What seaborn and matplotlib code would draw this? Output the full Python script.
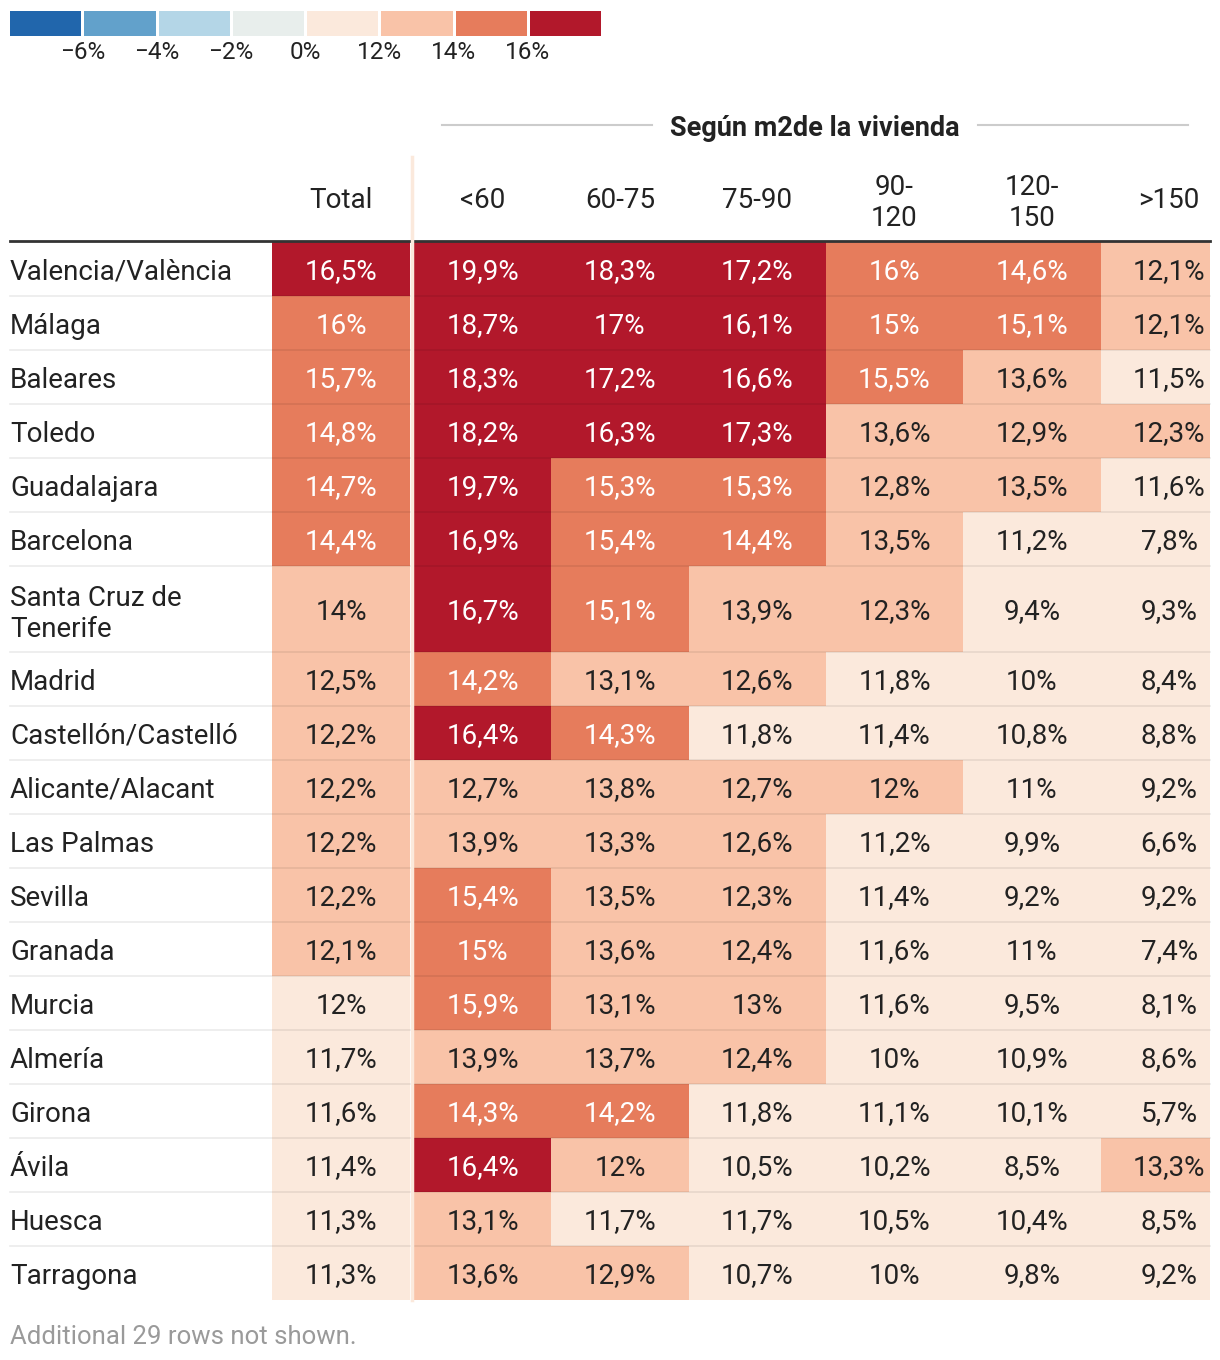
import numpy as np
import pandas as pd
import seaborn as sns
import matplotlib.pyplot as plt
from matplotlib.colors import ListedColormap, BoundaryNorm

# --- Data ---
PROVINCES = ['Valencia/València', 'Málaga', 'Baleares', 'Toledo', 'Guadalajara', 'Barcelona',
             'Santa Cruz de\nTenerife', 'Madrid', 'Castellón/Castelló', 'Alicante/Alacant',
             'Las Palmas', 'Sevilla', 'Granada', 'Murcia', 'Almería', 'Girona', 'Ávila',
             'Huesca', 'Tarragona']
TOTAL = [16.5, 15.96, 15.7, 14.8, 14.7, 14.4, 13.97, 12.5, 12.2, 12.2, 12.2, 12.2, 12.1,
         11.96, 11.7, 11.6, 11.4, 11.3, 11.3]
LT60 = [19.9, 18.7, 18.3, 18.2, 19.7, 16.9, 16.7, 14.2, 16.4, 12.7, 13.9, 15.4, 15.0,
        15.9, 13.9, 14.3, 16.4, 13.1, 13.6]
R60_75 = [18.3, 17.0, 17.2, 16.3, 15.3, 15.4, 15.1, 13.1, 14.3, 13.8, 13.3, 13.5, 13.6,
          13.1, 13.7, 14.2, 12.04, 11.7, 12.9]
R75_90 = [17.2, 16.1, 16.6, 17.3, 15.3, 14.4, 13.9, 12.6, 11.8, 12.7, 12.6, 12.3, 12.4,
          13.0, 12.4, 11.8, 10.5, 11.7, 10.7]
R90_120 = [15.96, 15.0, 15.5, 13.6, 12.8, 13.5, 12.3, 11.8, 11.4, 12.04, 11.2, 11.4, 11.6,
           11.6, 10.0, 11.1, 10.2, 10.5, 10.0]
R120_150 = [14.6, 15.1, 13.6, 12.9, 13.5, 11.2, 9.4, 10.0, 10.8, 11.0, 9.9, 9.2, 11.0,
            9.5, 10.9, 10.1, 8.5, 10.4, 9.8]
GT150 = [12.1, 12.1, 11.5, 12.3, 11.6, 7.8, 9.3, 8.4, 8.8, 9.2, 6.6, 9.2, 7.4,
         8.1, 8.6, 5.7, 13.3, 8.5, 9.2]
SIZE_COLS = ['<60', '60-75', '75-90', '90-\n120', '120-\n150', '>150']

LEGEND_LABELS = ['−6%', '−4%', '−2%', '0%', '12%', '14%', '16%']
LEGEND_BOUNDS = [-8, -6, -4, -2, 0, 12, 14, 16, 30]
LEGEND_COLORS = ['#2166ac', '#62a1cb', '#b4d6e7', '#e8eeec',
                 '#fbe9dc', '#f9c3a8', '#e67c5c', '#b2182b']

# --- Layout (pixels) ---
W, H = 1220, 1360
TABLE_TOP, UNIT_PX = 242, 2
NORMAL_UNITS, TALL_UNITS = 27, 43
TOTAL_X0, TOTAL_X1 = 272, 410
SIZE_X0, SIZE_X1, COL_W = 414, 1210, 137.3
FONT = 'Roboto'
TXT = '#222222'
FS = 20

plt.rcParams['font.family'] = [FONT, 'DejaVu Sans']

cmap = ListedColormap(LEGEND_COLORS)
norm = BoundaryNorm(LEGEND_BOUNDS, cmap.N)


def fmt(v):
    s = f"{v:.1f}".replace('.', ',')
    if s.endswith(',0'):
        s = s[:-2]
    return s + '%'


def px_axes(fig, x0, y0, x1, y1):
    return fig.add_axes([x0 / W, 1 - y1 / H, (x1 - x0) / W, (y1 - y0) / H])


units = np.array([TALL_UNITS if '\n' in p else NORMAL_UNITS for p in PROVINCES])
edges = np.concatenate([[0], np.cumsum(units)])
centers = edges[:-1] + units / 2
table_bottom = TABLE_TOP + edges[-1] * UNIT_PX

df_total = pd.DataFrame({'Total': TOTAL}, index=PROVINCES)
df_size = pd.DataFrame(dict(zip(SIZE_COLS, [LT60, R60_75, R75_90, R90_120, R120_150, GT150])),
                       index=PROVINCES)

fig = plt.figure(figsize=(W / 100, H / 100), dpi=100)


def draw_block(ax, frame):
    expanded = np.repeat(frame.values, units, axis=0)
    sns.heatmap(expanded, ax=ax, cmap=cmap, norm=norm, cbar=False,
                xticklabels=False, yticklabels=False)
    for i in range(len(frame)):
        for j in range(frame.shape[1]):
            v = frame.iat[i, j]
            ax.text(j + 0.5, centers[i], fmt(v), ha='center', va='center_baseline',
                    fontsize=FS, color='white' if v >= 14 else TXT)


ax_t = px_axes(fig, TOTAL_X0, TABLE_TOP, TOTAL_X1, table_bottom)
draw_block(ax_t, df_total)
ax_s = px_axes(fig, SIZE_X0, TABLE_TOP, SIZE_X1, table_bottom)
draw_block(ax_s, df_size)
ax_s.set_xlim(0, (SIZE_X1 - SIZE_X0) / COL_W)

# legend strip
ax_l = px_axes(fig, 8, 9, 602, 37)
mids = [(LEGEND_BOUNDS[k] + LEGEND_BOUNDS[k + 1]) / 2 for k in range(len(LEGEND_COLORS))]
sns.heatmap(np.array([mids]), ax=ax_l, cmap=cmap, norm=norm, cbar=False,
            linewidths=2, linecolor='white', xticklabels=False, yticklabels=False)
ax_l.set_xticks(np.arange(1, len(LEGEND_COLORS)))
ax_l.set_xticklabels(LEGEND_LABELS, fontsize=17.5, color=TXT)
ax_l.tick_params(axis='x', length=0, pad=3, labelbottom=True)

# overlay for labels and rules
ov = fig.add_axes([0, 0, 1, 1], facecolor='none')
ov.set_xlim(0, W)
ov.set_ylim(H, 0)
ov.axis('off')

for i, name in enumerate(PROVINCES):
    yc = TABLE_TOP + centers[i] * UNIT_PX
    ov.text(10, yc, name, ha='left', va='center_baseline', fontsize=FS, color=TXT,
            linespacing=1.2)
    if i > 0:
        yl = TABLE_TOP + edges[i] * UNIT_PX
        ov.plot([10, 1210], [yl, yl], color='black', alpha=0.08, lw=1.2)

ov.plot([10, 1210], [241, 241], color='#333333', lw=2)
ov.plot([411.5, 411.5], [157, table_bottom], color='#fbe9dc', lw=2.5)

ov.text((TOTAL_X0 + TOTAL_X1) / 2, 198, 'Total', ha='center', va='center_baseline',
        fontsize=FS, color=TXT)
for j, c in enumerate(SIZE_COLS):
    ov.text(SIZE_X0 + (j + 0.5) * COL_W, 198, c, ha='center', va='center_baseline',
            fontsize=FS, color=TXT, linespacing=1.2)

ov.text(815, 125, 'Según m2de la vivienda', ha='center', va='center_baseline', fontsize=19.5,
        fontweight='bold', color=TXT)
ov.plot([442, 652], [125, 125], color='#cccccc', lw=1.5)
ov.plot([978, 1188], [125, 125], color='#cccccc', lw=1.5)

ov.text(10, 1335, 'Additional 29 rows not shown.', ha='left', va='center_baseline',
        fontsize=18.5, color='#9a9a9a')

fig.savefig('out.png', dpi=100)
